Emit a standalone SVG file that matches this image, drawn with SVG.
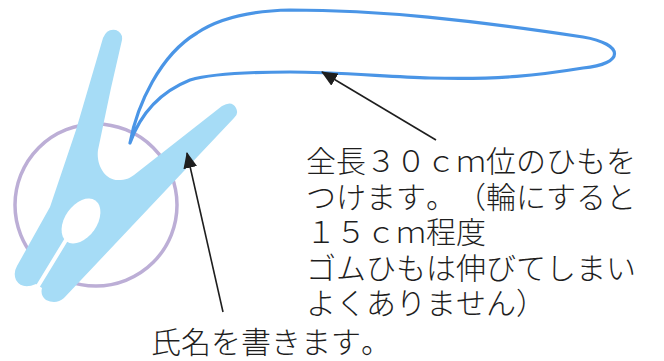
<svg xmlns="http://www.w3.org/2000/svg" width="664" height="361" viewBox="0 0 664 361">
<style>
.t{font-family:"Noto Sans CJK JP","Noto Sans CJK SC",sans-serif;font-size:30px;font-weight:300;fill:#1e1e1e;text-spacing-trim:space-all;font-kerning:none}
.ar{stroke:#1e1e1e;stroke-width:1.6;fill:none}
</style>
<defs>
<marker id="ah" viewBox="0 0 16 14" refX="15" refY="7" markerWidth="16" markerHeight="14" markerUnits="userSpaceOnUse" orient="auto">
<path d="M0,0 L16,7 L0,14 Z" fill="#1e1e1e"/>
</marker>
</defs>
<rect width="664" height="361" fill="#ffffff"/>
<g id="ring">
<circle cx="96" cy="205" r="81" fill="none" stroke="#bcaed6" stroke-width="3.5"/>
</g>
<g id="clothespin">
<path d="M103,38 Q107,28 116,30 Q123,33 122,40 L111,88 L98,150 C96,165 105,180 118,180 C126,180 130,178 134,175 L222,106 Q232,100 236,108 Q239,114 234,118 L64,298 Q56,305 46,300 Q40,295 42,288 L36,284 Q22,290 16,280 Q13,273 17,266 L50,207 L76,130 Z" fill="#a6dcf6"/>
<ellipse cx="81" cy="221" rx="16" ry="25" transform="rotate(35 81 221)" fill="#ffffff"/>
<path d="M66,240 L38,286" stroke="#ffffff" stroke-width="4" stroke-linecap="round"/>
</g>
<g id="string">
<path d="M130,143 C137,105 160,55 197,33 C215,21 245,11 290,10 C380,10 470,20 583,37 C625,44 625,64 583,68 C540,75 500,80 430,78 C380,76 330,72 290,72 C245,72 210,74 190,80 C160,92 140,115 130,143" fill="none" stroke="#4a95e6" stroke-width="3.2" stroke-linecap="round"/>
</g>
<g id="connectors">
<line class="ar" x1="436" y1="140" x2="322" y2="72" marker-end="url(#ah)"/>
<line class="ar" x1="223" y1="312" x2="187" y2="153" marker-end="url(#ah)"/>
</g>
<g id="label-string">
<text class="t" x="306" y="172">全長３０ｃｍ位のひもを</text>
<text class="t" x="306" y="207.5">つけます。（輪にすると</text>
<text class="t" x="306" y="243">１５ｃｍ程度</text>
<text class="t" x="306" y="278.5">ゴムひもは伸びてしまい</text>
<text class="t" x="306" y="314">よくありません）</text>
</g>
<g id="label-name">
<text class="t" x="151" y="353">氏名を書きます。</text>
</g>
</svg>
